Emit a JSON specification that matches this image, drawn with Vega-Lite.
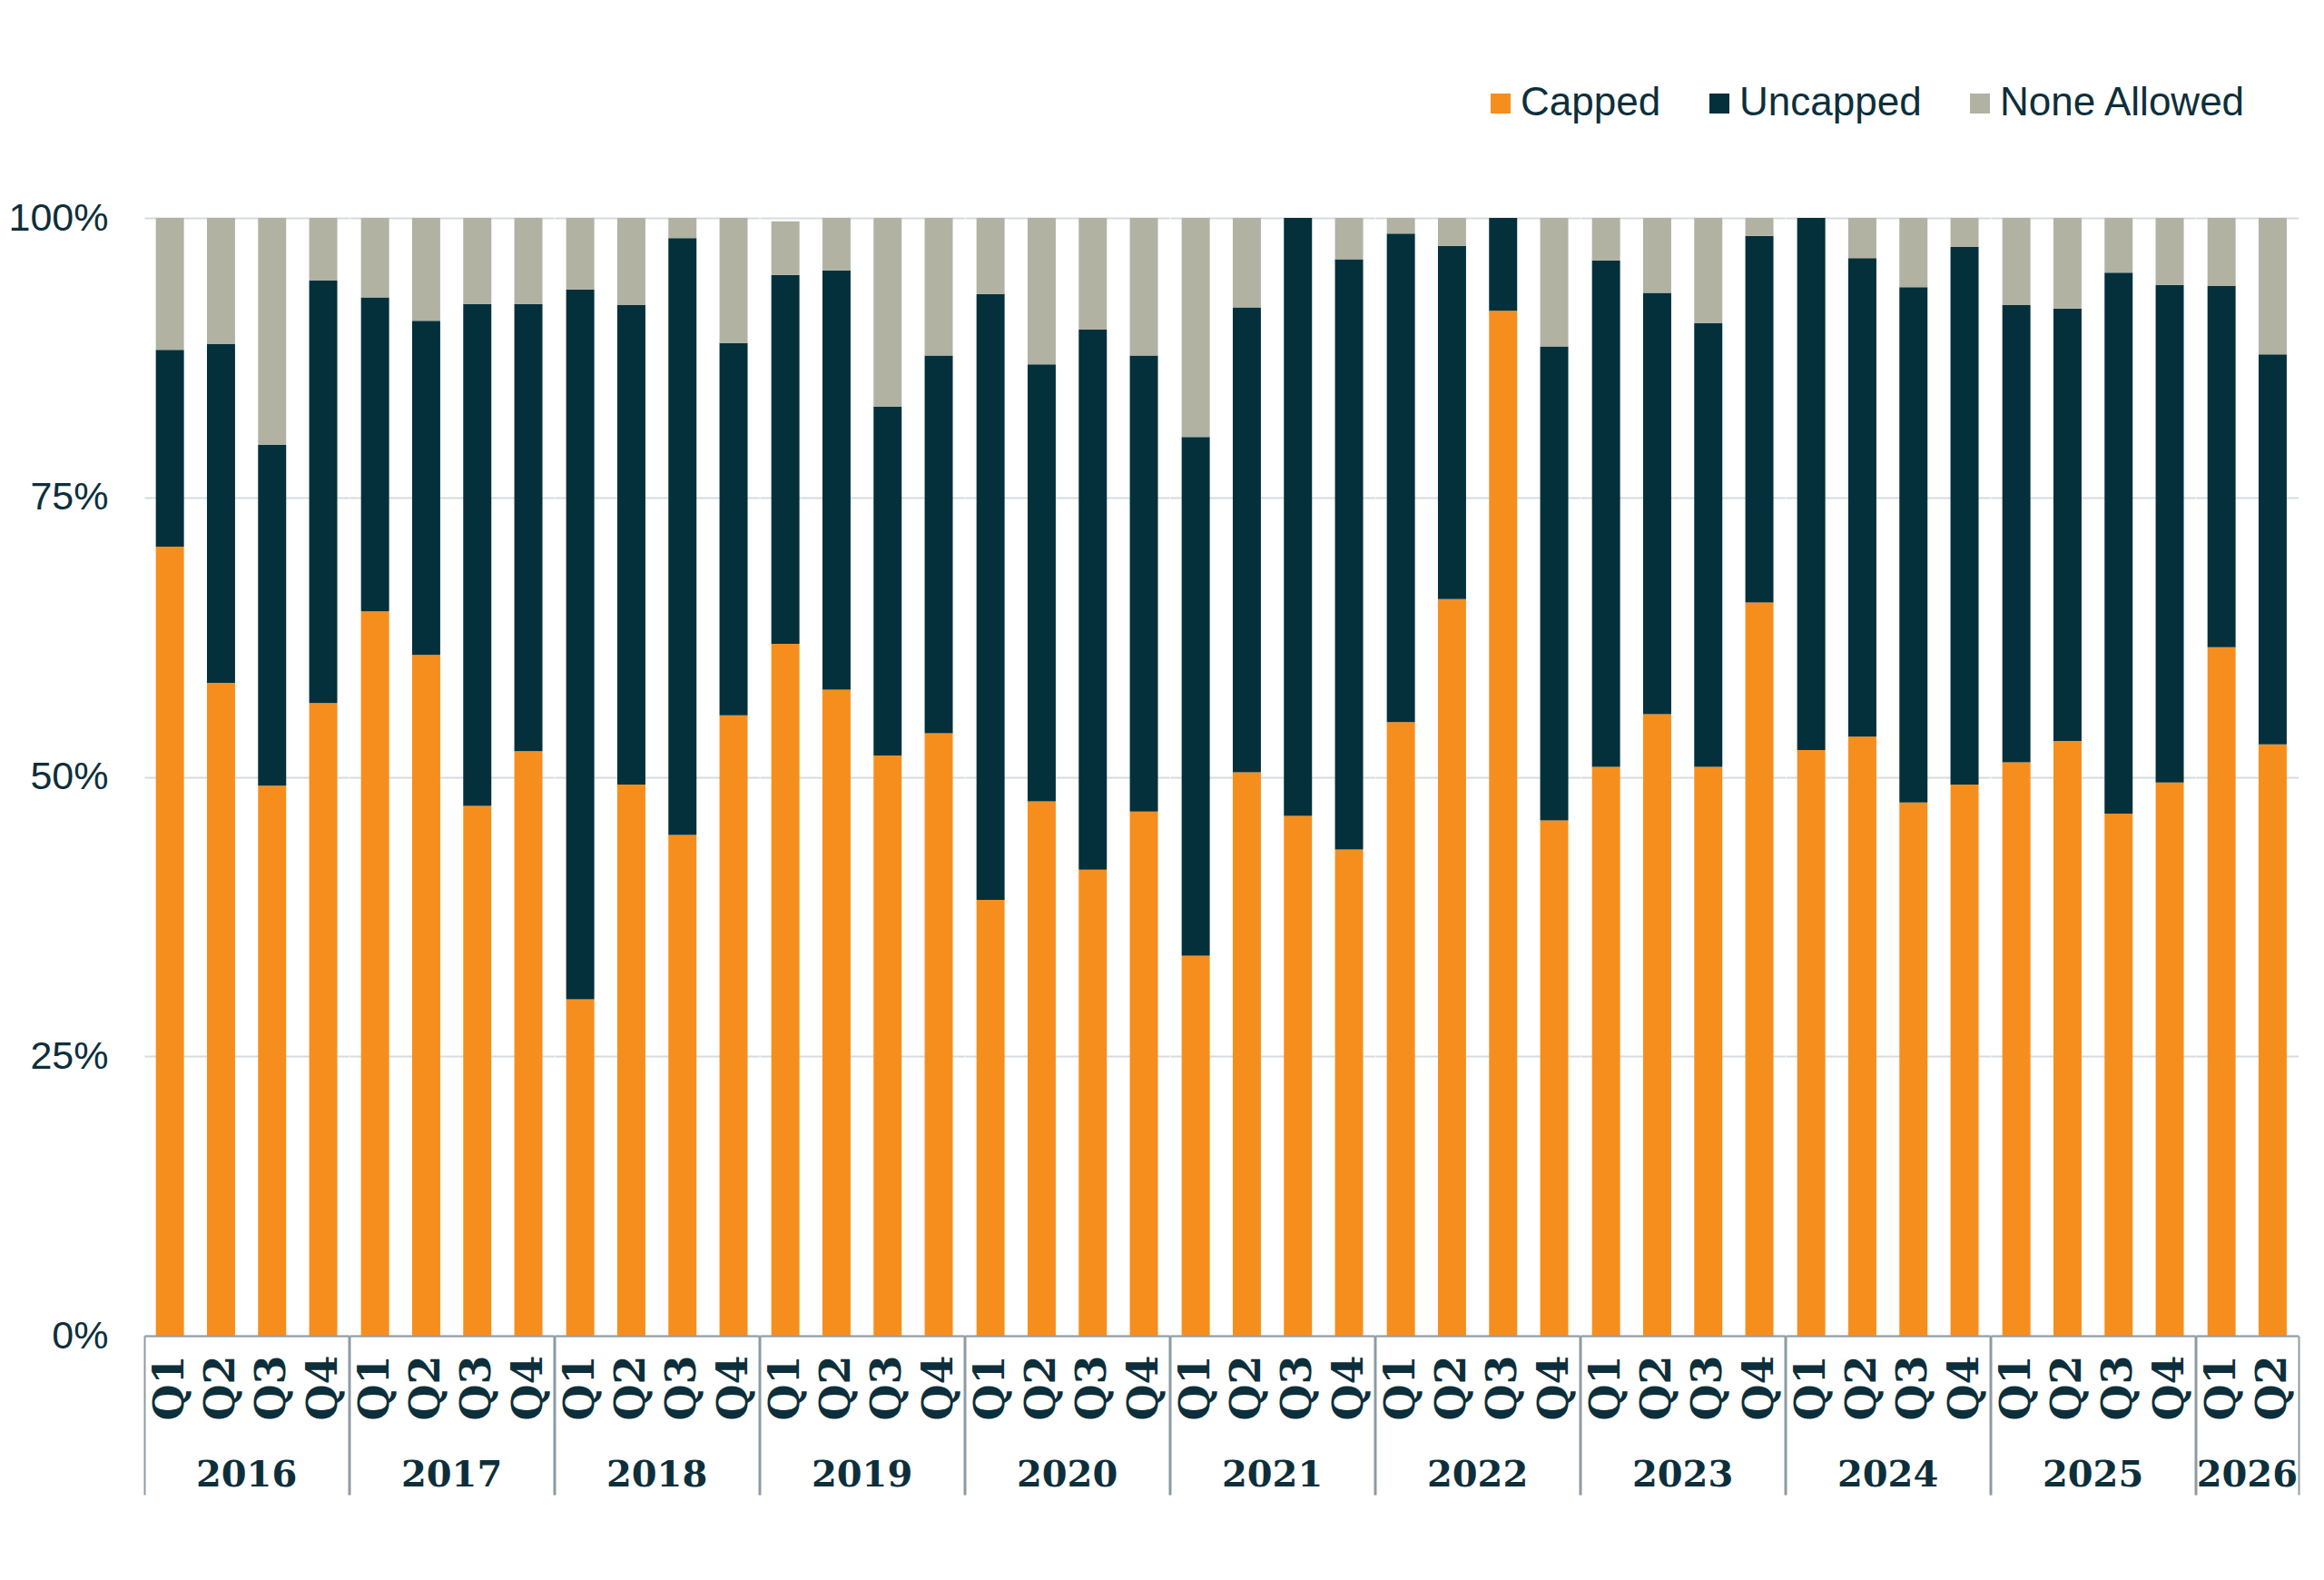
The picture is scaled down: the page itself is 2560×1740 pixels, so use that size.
{
  "$schema": "https://vega.github.io/schema/vega-lite/v6.json",
  "description": "Share of deals by cap type, quarterly 2016 Q1 - 2026 Q2.",
  "background": "white",
  "padding": {"left": 9, "top": 92, "right": 30, "bottom": 10},
  "data": {
    "values": [
      {"year": "2016", "quarter": "Q1", "Capped": 70.6, "Uncapped": 17.6, "None Allowed": 11.8},
      {"year": "2016", "quarter": "Q2", "Capped": 58.4, "Uncapped": 30.3, "None Allowed": 11.3},
      {"year": "2016", "quarter": "Q3", "Capped": 49.2, "Uncapped": 30.5, "None Allowed": 20.3},
      {"year": "2016", "quarter": "Q4", "Capped": 56.6, "Uncapped": 37.8, "None Allowed": 5.6},
      {"year": "2017", "quarter": "Q1", "Capped": 64.8, "Uncapped": 28.1, "None Allowed": 7.1},
      {"year": "2017", "quarter": "Q2", "Capped": 60.9, "Uncapped": 29.9, "None Allowed": 9.2},
      {"year": "2017", "quarter": "Q3", "Capped": 47.4, "Uncapped": 44.9, "None Allowed": 7.7},
      {"year": "2017", "quarter": "Q4", "Capped": 52.3, "Uncapped": 40.0, "None Allowed": 7.7},
      {"year": "2018", "quarter": "Q1", "Capped": 30.1, "Uncapped": 63.5, "None Allowed": 6.4},
      {"year": "2018", "quarter": "Q2", "Capped": 49.3, "Uncapped": 42.9, "None Allowed": 7.8},
      {"year": "2018", "quarter": "Q3", "Capped": 44.8, "Uncapped": 53.4, "None Allowed": 1.8},
      {"year": "2018", "quarter": "Q4", "Capped": 55.5, "Uncapped": 33.3, "None Allowed": 11.2},
      {"year": "2019", "quarter": "Q1", "Capped": 61.9, "Uncapped": 33.0, "None Allowed": 4.8},
      {"year": "2019", "quarter": "Q2", "Capped": 57.8, "Uncapped": 37.5, "None Allowed": 4.7},
      {"year": "2019", "quarter": "Q3", "Capped": 51.9, "Uncapped": 31.2, "None Allowed": 16.9},
      {"year": "2019", "quarter": "Q4", "Capped": 53.9, "Uncapped": 33.8, "None Allowed": 12.3},
      {"year": "2020", "quarter": "Q1", "Capped": 39.0, "Uncapped": 54.2, "None Allowed": 6.8},
      {"year": "2020", "quarter": "Q2", "Capped": 47.8, "Uncapped": 39.1, "None Allowed": 13.1},
      {"year": "2020", "quarter": "Q3", "Capped": 41.7, "Uncapped": 48.3, "None Allowed": 10.0},
      {"year": "2020", "quarter": "Q4", "Capped": 46.9, "Uncapped": 40.8, "None Allowed": 12.3},
      {"year": "2021", "quarter": "Q1", "Capped": 34.0, "Uncapped": 46.4, "None Allowed": 19.6},
      {"year": "2021", "quarter": "Q2", "Capped": 50.4, "Uncapped": 41.6, "None Allowed": 8.0},
      {"year": "2021", "quarter": "Q3", "Capped": 46.5, "Uncapped": 53.5, "None Allowed": 0},
      {"year": "2021", "quarter": "Q4", "Capped": 43.5, "Uncapped": 52.8, "None Allowed": 3.7},
      {"year": "2022", "quarter": "Q1", "Capped": 54.9, "Uncapped": 43.7, "None Allowed": 1.4},
      {"year": "2022", "quarter": "Q2", "Capped": 65.9, "Uncapped": 31.6, "None Allowed": 2.5},
      {"year": "2022", "quarter": "Q3", "Capped": 91.7, "Uncapped": 8.3, "None Allowed": 0},
      {"year": "2022", "quarter": "Q4", "Capped": 46.1, "Uncapped": 42.4, "None Allowed": 11.5},
      {"year": "2023", "quarter": "Q1", "Capped": 50.9, "Uncapped": 45.3, "None Allowed": 3.8},
      {"year": "2023", "quarter": "Q2", "Capped": 55.6, "Uncapped": 37.7, "None Allowed": 6.7},
      {"year": "2023", "quarter": "Q3", "Capped": 50.9, "Uncapped": 39.7, "None Allowed": 9.4},
      {"year": "2023", "quarter": "Q4", "Capped": 65.6, "Uncapped": 32.8, "None Allowed": 1.6},
      {"year": "2024", "quarter": "Q1", "Capped": 52.4, "Uncapped": 47.6, "None Allowed": 0},
      {"year": "2024", "quarter": "Q2", "Capped": 53.6, "Uncapped": 42.8, "None Allowed": 3.6},
      {"year": "2024", "quarter": "Q3", "Capped": 47.7, "Uncapped": 46.1, "None Allowed": 6.2},
      {"year": "2024", "quarter": "Q4", "Capped": 49.3, "Uncapped": 48.1, "None Allowed": 2.6},
      {"year": "2025", "quarter": "Q1", "Capped": 51.3, "Uncapped": 40.9, "None Allowed": 7.8},
      {"year": "2025", "quarter": "Q2", "Capped": 53.2, "Uncapped": 38.7, "None Allowed": 8.1},
      {"year": "2025", "quarter": "Q3", "Capped": 46.7, "Uncapped": 48.4, "None Allowed": 4.9},
      {"year": "2025", "quarter": "Q4", "Capped": 49.5, "Uncapped": 44.5, "None Allowed": 6.0},
      {"year": "2026", "quarter": "Q1", "Capped": 61.6, "Uncapped": 32.3, "None Allowed": 6.1},
      {"year": "2026", "quarter": "Q2", "Capped": 52.9, "Uncapped": 34.9, "None Allowed": 12.2}
    ]
  },
  "transform": [
    {"fold": ["Capped", "Uncapped", "None Allowed"], "as": ["segment", "share"]},
    {"window": [{"op": "row_number", "as": "stack_rank"}], "groupby": ["year", "quarter"]}
  ],
  "facet": {
    "column": {
      "field": "year",
      "type": "ordinal",
      "title": null,
      "header": {
        "labelOrient": "bottom",
        "labelFont": "DejaVu Serif",
        "labelFontWeight": "bold",
        "labelFontSize": 40,
        "labelColor": "#0d2f3b",
        "labelPadding": 134
      }
    }
  },
  "spacing": {"column": 0, "row": 0},
  "bounds": "flush",
  "resolve": {"scale": {"x": "independent"}},
  "spec": {
    "width": {"step": 56.3},
    "height": 1231,
    "mark": {"type": "bar", "width": {"band": 0.55}},
    "encoding": {
      "x": {
        "field": "quarter",
        "type": "nominal",
        "title": null,
        "scale": {"paddingInner": 0, "paddingOuter": 0},
        "axis": {
          "labelAngle": -90,
          "labelFont": "DejaVu Serif",
          "labelFontWeight": "bold",
          "labelFontSize": 46,
          "labelColor": "#0d2f3b",
          "labelPadding": -154,
          "tickBand": "extent",
          "tickSize": 175,
          "tickWidth": 2,
          "tickColor": {"condition": {"test": "datum.index == -1 || datum.index == 1", "value": "#8d9ba3"}, "value": "transparent"},
          "domainColor": "#8d9ba3",
          "domainWidth": 2
        }
      },
      "y": {
        "field": "share",
        "type": "quantitative",
        "stack": "zero",
        "title": null,
        "scale": {"domain": [0, 100], "nice": false},
        "axis": {
          "values": [0, 25, 50, 75, 100],
          "labelExpr": "datum.value + '%'",
          "labelFont": "Liberation Sans",
          "labelFontSize": 43,
          "labelColor": "#0d2f3b",
          "labelPadding": 40,
          "ticks": false,
          "domain": false,
          "grid": true,
          "gridColor": "#d5dbdf",
          "gridWidth": 2
        }
      },
      "order": {"field": "stack_rank", "type": "quantitative"},
      "color": {
        "field": "segment",
        "type": "nominal",
        "sort": ["Capped", "Uncapped", "None Allowed"],
        "scale": {
          "domain": ["Capped", "Uncapped", "None Allowed"],
          "range": ["#f68e1e", "#04303b", "#b1b2a2"]
        },
        "legend": {
          "title": null,
          "orient": "none",
          "direction": "horizontal",
          "legendX": 1472,
          "legendY": -148,
          "symbolType": "square",
          "symbolSize": 484,
          "symbolStrokeWidth": 0,
          "symbolOpacity": 1,
          "labelFont": "Liberation Sans",
          "labelFontSize": 44,
          "labelColor": "#0d2f3b",
          "labelOffset": 0,
          "labelLimit": 0,
          "columnPadding": 42,
          "padding": 0
        }
      }
    }
  },
  "config": {
    "view": {"stroke": null},
    "facet": {"spacing": 0}
  }
}
